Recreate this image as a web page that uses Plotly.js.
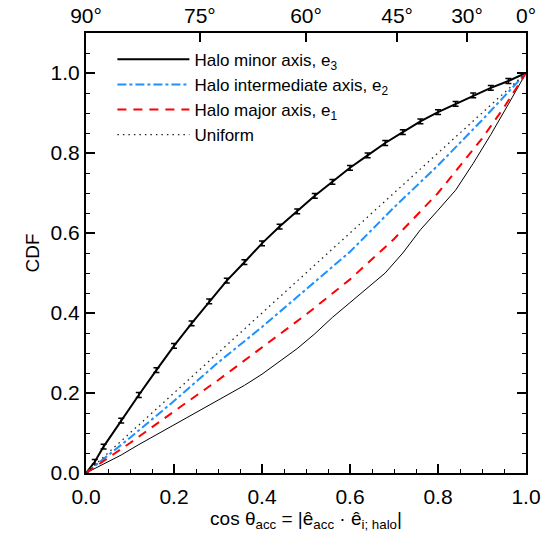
<!DOCTYPE html>
<html>
<head>
<meta charset="utf-8">
<script src="https://cdn.plot.ly/plotly-3.0.1.min.js"></script>
<style>
  html, body { margin: 0; padding: 0; background: #fff; }
  #chart { width: 549px; height: 534px; }
</style>
</head>
<body>
<div id="chart"></div>
<script>
// eixo menor (e3): pontos com barras de erro
const minorX = [0, 0.02, 0.04, 0.08, 0.12, 0.16, 0.20, 0.24, 0.28, 0.32, 0.36, 0.40, 0.44, 0.48,
                0.52, 0.56, 0.60, 0.64, 0.68, 0.72, 0.76, 0.80, 0.84, 0.88, 0.92, 0.96, 1.0];
const minorY = [0, 0.028, 0.066, 0.131, 0.195, 0.257, 0.318, 0.374, 0.429, 0.481, 0.527, 0.574, 0.616, 0.654,
                0.693, 0.728, 0.763, 0.794, 0.825, 0.852, 0.879, 0.902, 0.923, 0.944, 0.963, 0.980, 1.0];
const minorErr = [0, 0.006, 0.006, 0.006, 0.006, 0.006, 0.006, 0.006, 0.006, 0.006, 0.006, 0.006, 0.006, 0.006,
                  0.006, 0.006, 0.006, 0.006, 0.006, 0.006, 0.006, 0.006, 0.006, 0.006, 0.006, 0.006, 0];

// eixo intermediario (e2)
const interX = [0, 0.1, 0.2, 0.3, 0.4, 0.5, 0.6, 0.7, 0.8, 0.9, 0.95, 1.0];
const interY = [0, 0.088, 0.180, 0.276, 0.365, 0.458, 0.553, 0.664, 0.769, 0.882, 0.940, 1.0];

// eixo maior (e1)
const majorX = [0, 0.1, 0.2, 0.3, 0.4, 0.5, 0.6, 0.7, 0.8, 0.9, 0.95, 1.0];
const majorY = [0, 0.075, 0.154, 0.232, 0.314, 0.396, 0.484, 0.585, 0.700, 0.836, 0.914, 1.0];

// curva fina sem legenda
const thinX = [0, 0.04, 0.08, 0.12, 0.16, 0.20, 0.24, 0.28, 0.32, 0.36, 0.40, 0.44, 0.48,
               0.52, 0.56, 0.60, 0.64, 0.68, 0.72, 0.76, 0.80, 0.84, 0.88, 0.92, 0.96, 1.0];
const thinY = [0, 0.022, 0.045, 0.071, 0.096, 0.120, 0.146, 0.170, 0.194, 0.219, 0.247, 0.279, 0.311,
               0.348, 0.389, 0.426, 0.462, 0.500, 0.550, 0.608, 0.657, 0.707, 0.774, 0.846, 0.922, 1.0];

// uniforme
const uniX = [0, 1];
const uniY = [0, 1];

// eixo de cima: angulos
const angDeg = [90, 75, 60, 45, 30, 0];
const angText = ['90°', '75°', '60°', '45°', '30°', '0°'];
const angVals = angDeg.map(a => Math.cos(a * Math.PI / 180));

const fonte = 'Liberation Sans, Arial, Helvetica, sans-serif';

const traces = [
  { x: thinX, y: thinY, mode: 'lines', showlegend: false,
    line: { color: '#000', width: 1 } },
  { x: minorX, y: minorY, mode: 'lines', name: 'Halo minor axis, e<sub>3</sub>',
    line: { color: '#000', width: 2 },
    error_y: { type: 'data', array: minorErr, visible: true, color: '#000', thickness: 1.5, width: 3 } },
  { x: interX, y: interY, mode: 'lines', name: 'Halo intermediate axis, e<sub>2</sub>',
    line: { color: '#1e90ff', width: 2, dash: 'dashdot' } },
  { x: majorX, y: majorY, mode: 'lines', name: 'Halo major axis, e<sub>1</sub>',
    line: { color: '#ff0000', width: 2, dash: '9px,7px' } },
  { x: uniX, y: uniY, mode: 'lines', name: 'Uniform',
    line: { color: '#222', width: 1.3, dash: '1.5px,4px' } },
  // traco invisivel so para ativar o eixo de cima
  { x: [0, 1], y: [0, 0], xaxis: 'x2', mode: 'lines', showlegend: false,
    line: { width: 0 }, hoverinfo: 'skip' }
];

const layout = {
  width: 549, height: 534,
  margin: { l: 86, r: 23, t: 33, b: 61 },
  paper_bgcolor: '#fff', plot_bgcolor: '#fff',
  font: { family: fonte, size: 20, color: '#000' },
  showlegend: true,
  legend: {
    x: 0.06, y: 0.98, xanchor: 'left', yanchor: 'top',
    bgcolor: 'rgba(0,0,0,0)', font: { size: 17 }, tracegroupgap: 0,
    itemwidth: 72
  },
  xaxis: {
    range: [0, 1], showgrid: false, zeroline: false,
    showline: true, linecolor: '#000', linewidth: 2, mirror: false,
    ticks: 'inside', ticklen: 9, tickwidth: 1.5, tickcolor: '#000',
    dtick: 0.2, tick0: 0, tickformat: '.1f', tickfont: { size: 21 }, ticklabelstandoff: 4,
    minor: { dtick: 0.05, ticklen: 4, tickwidth: 1, ticks: 'inside', tickcolor: '#000' },
    title: { text: 'cos θ<sub>acc</sub> = |ê<sub>acc</sub> · ê<sub>i; halo</sub>|', font: { size: 19 }, standoff: 2 }
  },
  xaxis2: {
    overlaying: 'x', side: 'top', range: [0, 1], showgrid: false, zeroline: false,
    showline: true, linecolor: '#000', linewidth: 2,
    ticks: 'inside', ticklen: 9, tickwidth: 1.5, tickcolor: '#000',
    tickmode: 'array', tickvals: angVals, ticktext: angText, tickfont: { size: 21 }
  },
  yaxis: {
    range: [0, 1.1], showgrid: false, zeroline: false,
    showline: true, linecolor: '#000', linewidth: 2, mirror: 'ticks',
    ticks: 'inside', ticklen: 9, tickwidth: 1.5, tickcolor: '#000',
    tickvals: [0, 0.2, 0.4, 0.6, 0.8, 1.0], tickformat: '.1f', tickfont: { size: 21 },
    minor: { dtick: 0.05, ticklen: 4, tickwidth: 1, ticks: 'inside', tickcolor: '#000' },
    title: { text: 'CDF', font: { size: 19 }, standoff: 6 }
  }
};

Plotly.newPlot('chart', traces, layout, { displayModeBar: false, staticPlot: true });
</script>
</body>
</html>
